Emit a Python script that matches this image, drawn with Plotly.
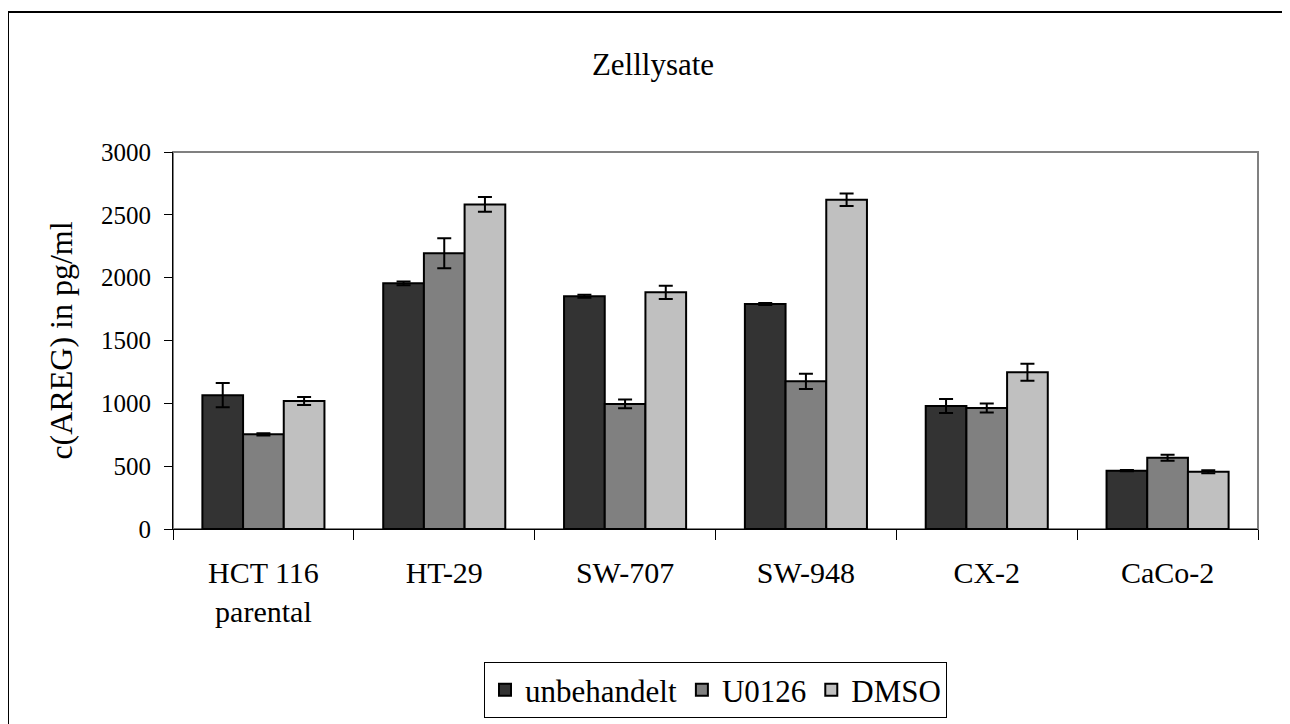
import plotly.graph_objects as go

categories = ["HCT 116<br>parental", "HT-29", "SW-707", "SW-948", "CX-2", "CaCo-2"]
series_names = ["unbehandelt", "U0126", "DMSO"]
unbehandelt = [1065, 1955, 1852, 1790, 979, 464]
unbehandelt_err = [97, 15, 12, 8, 56, 5]
u0126 = [753, 2194, 995, 1175, 963, 567]
u0126_err = [8, 120, 35, 61, 35, 24]
dmso = [1018, 2583, 1883, 2620, 1247, 456]
dmso_err = [32, 58, 52, 50, 67, 12]
colors = ["#333333", "#808080", "#c0c0c0"]
y_ticks = [0, 500, 1000, 1500, 2000, 2500, 3000]

FONT = "Liberation Serif"
W, H = 1290, 724
L, R, T, B = 165, 40, 144, 203
PW, PH = W - L - R, H - T - B


def px_x(p):
    return (p - L) / PW


def px_y(p):
    return (H - B - p) / PH


fig = go.Figure()
for name, vals, errs, col in zip(series_names, [unbehandelt, u0126, dmso],
                                 [unbehandelt_err, u0126_err, dmso_err], colors):
    fig.add_trace(go.Bar(
        name=name, x=categories, y=vals,
        marker=dict(color=col, line=dict(color="black", width=2)),
        error_y=dict(type="data", array=errs, visible=True, color="black",
                     thickness=2, width=7),
    ))

fig.update_layout(
    width=W, height=H,
    margin=dict(l=L, r=R, t=T, b=B, autoexpand=False),
    paper_bgcolor="white", plot_bgcolor="white",
    barmode="group", bargap=0.325, bargroupgap=0,
    font=dict(family=FONT, color="black", size=30),
    title=dict(text="Zelllysate", x=0.5, xref="container", xanchor="center",
               y=1 - 56 / H, yref="container", yanchor="middle",
               font=dict(family=FONT, size=31, color="black")),
    xaxis=dict(showline=True, linecolor="black", linewidth=1,
               ticks="outside", tickson="boundaries", ticklen=10,
               tickcolor="black", tickwidth=1,
               tickfont=dict(family=FONT, size=30, color="black"),
               ticklabelstandoff=17, showgrid=False, zeroline=False),
    yaxis=dict(range=[0, 3000], tickvals=y_ticks, showline=True,
               linecolor="black", linewidth=1, ticks="outside", ticklen=8,
               tickcolor="black", tickwidth=1,
               tickfont=dict(family=FONT, size=25, color="black"),
               ticklabelstandoff=8, showgrid=False, zeroline=False,
               title=dict(text="c(AREG) in pg/ml", standoff=18,
                          font=dict(family=FONT, size=32, color="black"))),
    legend=dict(orientation="h", x=0.5, xanchor="center", y=px_y(654),
                yanchor="top", bordercolor="black", borderwidth=1,
                font=dict(family=FONT, size=31, color="black"),
                itemwidth=30, bgcolor="white"),
    showlegend=True,
)

# plot-area frame (grey) and outer chart border
fig.add_shape(type="rect", xref="paper", yref="paper", x0=0, x1=1, y0=0, y1=1,
              line=dict(color="#808080", width=2), layer="below")
fig.add_shape(type="line", xref="paper", yref="paper",
              x0=px_x(0), x1=px_x(1300), y0=px_y(4), y1=px_y(4),
              line=dict(color="black", width=2))
fig.add_shape(type="line", xref="paper", yref="paper",
              x0=px_x(0), x1=px_x(0), y0=px_y(4), y1=px_y(740),
              line=dict(color="black", width=2))

fig.write_html("out.html")
